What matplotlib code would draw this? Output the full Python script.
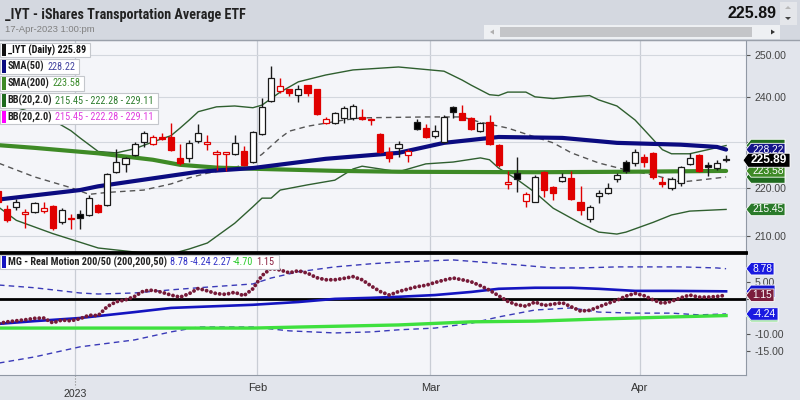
import numpy as np
import matplotlib
matplotlib.use("Agg")
import matplotlib.pyplot as plt
from matplotlib.patches import Polygon, Rectangle
from matplotlib.lines import Line2D
from matplotlib.transforms import blended_transform_factory
from matplotlib import font_manager

avail = {f.name for f in font_manager.fontManager.ttflist}
def pick(*names):
    for n in names:
        if n in avail:
            return n
    return "DejaVu Sans"
NARROW = pick("Roboto Condensed", "Liberation Sans Narrow", "Arial Narrow", "Liberation Sans")
SANS = pick("Liberation Sans", "Roboto", "DejaVu Sans")

# ---------------- data (trading-day index, 0 = 3-Jan-2023) ----------------
days = np.arange(-9, 72)
opens = [219.2, 215.5, 216.0, 214.6, 215.0, 215.1, 216.1, 212.8, 213.4,
         214.5, 214.3, 216.3, 216.3, 223.4, 225.1, 227.1, 229.9, 229.5, 230.9, 231.0, 226.3,
         226.4, 230.1, 229.5, 227.3, 227.2, 227.3, 227.9, 225.5,
         231.7, 239.1, 241.5, 241.9, 240.6, 242.8, 241.9, 234.1, 234.1, 235.3, 235.3, 235.4,
         235.0, 231.7, 227.7, 228.6, 227.0, 234.3, 233.0,
         231.2, 229.9, 237.7, 236.4, 235.3, 232.3, 234.3, 229.3, 220.8, 223.1, 217.2, 217.0,
         223.4, 220.1, 221.4, 222.1, 217.0, 213.4, 218.2, 218.8, 221.9, 225.5, 225.3,
         226.6, 227.5, 221.2, 219.9, 221.0, 225.1, 227.0, 224.8, 224.2, 226.0]
highs = [219.6, 216.3, 217.6, 215.5, 216.9, 216.9, 216.4, 215.7, 214.5,
         215.3, 218.5, 216.5, 223.2, 228.4, 226.6, 229.9, 232.3, 231.4, 231.9, 234.2, 229.5,
         230.4, 234.0, 231.4, 228.1, 227.7, 231.4, 229.1, 232.3,
         239.8, 247.4, 244.4, 242.0, 242.8, 242.9, 242.0, 235.4, 236.7, 237.9, 238.4, 237.2,
         235.3, 231.8, 228.8, 230.1, 228.3, 235.1, 233.8,
         233.6, 235.9, 237.9, 238.3, 235.4, 234.3, 236.0, 229.5, 223.6, 226.6, 219.0, 222.6,
         223.6, 220.3, 223.1, 223.6, 220.3, 216.3, 219.5, 221.0, 223.1, 225.9, 228.4,
         227.3, 227.7, 222.3, 222.3, 224.7, 227.5, 227.3, 225.5, 225.9, 227.0]
lows = [216.5, 212.8, 215.3, 211.6, 214.8, 214.8, 211.2, 212.4, 211.4,
        211.4, 214.1, 214.8, 216.2, 223.1, 223.4, 226.8, 228.8, 229.3, 230.3, 228.0, 224.8,
        225.5, 229.7, 228.1, 223.8, 223.5, 227.1, 224.7, 225.3,
        231.4, 238.9, 240.9, 240.4, 238.9, 240.4, 236.0, 233.8, 233.8, 234.1, 234.9, 234.7,
        233.6, 227.5, 225.5, 226.6, 225.5, 232.6, 230.8,
        230.8, 229.7, 235.3, 234.7, 232.6, 232.1, 229.3, 224.5, 219.7, 219.1, 215.9, 216.9,
        218.0, 217.4, 221.2, 217.4, 214.3, 212.8, 216.7, 218.6, 221.2, 223.2, 224.7,
        224.5, 221.9, 220.1, 219.5, 220.3, 224.9, 223.4, 222.5, 223.8, 225.5]
closes = [217.0, 213.2, 217.0, 215.0, 216.7, 215.7, 211.6, 215.3, 213.6,
          213.7, 217.8, 215.0, 222.9, 225.5, 226.4, 229.5, 231.9, 231.0, 230.6, 228.1, 225.4,
          229.7, 231.9, 229.9, 227.7, 227.6, 229.7, 224.9, 232.1,
          237.7, 244.4, 242.6, 240.9, 241.9, 240.9, 236.2, 235.1, 236.4, 237.5, 238.1, 235.1,
          234.8, 227.7, 226.4, 229.5, 227.9, 232.8, 231.0,
          232.3, 235.5, 236.6, 234.9, 232.8, 234.1, 229.5, 224.9, 221.2, 221.9, 218.6, 222.3,
          219.5, 218.8, 222.3, 217.6, 215.3, 215.9, 218.8, 219.9, 222.7, 223.6, 227.7,
          225.5, 222.3, 220.8, 221.9, 224.4, 226.4, 223.6, 224.5, 225.3, 225.89]
close_before_first = 219.5

sma50_d = [-9, 0, 2, 13, 19, 27, 35, 40, 46, 53, 59, 66, 70, 71]
sma50_v = [217.5, 219.5, 220.3, 223.4, 224.2, 226.2, 227.5, 229.7, 231.0, 230.8, 229.7, 229.3, 228.8, 228.22]

sma200_d = [-9, -5, 2, 8, 11, 15, 20, 28, 35, 50, 60, 71]
sma200_v = [229.2, 228.6, 227.4, 226.0, 224.9, 224.3, 224.0, 223.6, 223.4, 223.3, 223.4, 223.58]

bbu_d = [-9, -6, -3, -1, 0, 2, 4, 6, 8, 10, 11, 12, 13, 15, 17, 19, 20, 22, 24, 27, 30, 35,
         40, 42, 43, 45, 46, 47, 49, 50, 52, 54, 56, 57, 59, 61, 62, 63, 64, 65, 67, 69, 71]
bbu_v = [239.0, 237.0, 234.8, 232.4, 230.8, 227.8, 227.5, 228.4, 229.9, 231.3, 233.0, 234.8,
         236.7, 237.8, 238.0, 237.6, 238.2, 241.2, 243.6, 245.2, 246.4, 247.1,
         246.1, 244.0, 242.8, 240.6, 240.4, 241.2, 241.2, 240.1, 239.7, 240.1, 240.4, 239.4,
         238.0, 234.8, 232.6, 230.4, 228.2, 227.3, 227.3, 228.2, 229.11]

bbm_d = [-9, -5, -1, 1, 3, 7, 10, 12, 14, 16, 18, 19, 20, 21, 22, 23, 25, 27, 29, 31, 38, 42,
         44, 47, 50, 52, 54, 57, 60, 63, 66, 68, 71]
bbm_v = [225.3, 222.3, 220.0, 218.6, 219.0, 219.5, 220.8, 222.1, 223.1, 223.8, 224.9, 225.8,
         227.2, 229.0, 230.8, 232.3, 233.4, 234.1, 234.8, 235.3, 235.5, 235.5,
         234.3, 233.0, 231.0, 229.7, 227.5, 225.3, 223.8, 222.7, 221.2, 221.6, 222.28]

bbl_d = [-9, -7, -3, 2, 7, 10, 12, 14, 17, 19, 20, 21, 22, 25, 28, 30, 31, 33, 35, 38, 41,
         44, 45, 46, 48, 50, 52, 55, 57, 59, 60, 63, 65, 67, 71]
bbl_v = [216.0, 213.2, 210.5, 207.6, 206.6, 206.4, 207.4, 208.6, 212.6, 216.0, 217.8, 217.8,
         219.5, 220.6, 221.6, 224.0, 224.6, 224.0, 223.4, 225.1, 225.5,
         226.4, 226.0, 224.2, 221.8, 219.0, 215.7, 212.6, 210.8, 210.4, 210.8, 212.8, 214.3,
         215.1, 215.45]

# Real Motion panel
rm_dots = [-7.0, -6.5, -6.2, -5.9, -5.5, -5.4, -6.8, -6.0, -6.2,
           -5.6, -4.6, -4.7, -2.1, -0.7, -0.2, 0.8, 2.4, 2.6, 2.0, 1.2, 0.6, 1.6, 3.1, 2.4,
           1.6, 1.4, 2.0, 1.0, 3.0, 6.8, 8.9, 8.4, 7.6, 8.2, 7.5, 6.2, 5.6, 5.6, 6.0, 6.5,
           5.6, 3.8, 2.2, 1.2, 2.2, 2.9, 3.6, 4.0, 4.8, 5.5, 6.1, 5.6, 5.0, 3.9, 2.6, 1.0,
           -0.6, -1.6, -2.0, -0.8, -1.8, -1.4, -1.0, -2.2, -3.4, -3.2, -2.2, -1.2, -0.3,
           0.9, 1.7, 1.0, -0.2, -1.2, -0.6, 0.4, 1.2, 0.6, 0.6, 0.8, 1.15]
rm_up_d = [-9, -5, 0, 2, 6, 10, 13, 19, 21, 24, 28, 32, 35, 41, 44, 48, 52, 55, 59, 66, 70, 71]
rm_up_v = [4.1, 3.3, 1.8, 1.5, 1.8, 2.7, 3.3, 4.4, 6.1, 7.9, 9.3, 10.2, 10.7, 11.3, 10.7,
           9.9, 9.0, 9.0, 9.3, 9.3, 9.0, 8.78]
rm_lo_d = [-9, -5, 0, 6, 10, 13, 19, 23, 28, 32, 35, 39, 43, 46, 50, 54, 57, 61, 65, 68, 71]
rm_lo_v = [-18.4, -16.6, -13.7, -11.7, -9.4, -8.0, -8.0, -9.1, -9.7, -9.4, -8.8, -8.3,
           -6.9, -5.1, -3.1, -2.5, -3.7, -4.0, -4.0, -4.5, -4.24]
rm_blue_d = [-9, -5, 0, 6, 10, 13, 19, 24, 28, 32, 35, 39, 43, 46, 50, 54, 57, 61, 65, 71]
rm_blue_v = [-7.1, -6.3, -5.4, -3.7, -2.5, -2.2, -1.6, -0.8, 0.1, 0.4, 0.7, 1.2, 2.1, 3.0,
             3.3, 3.3, 3.0, 2.4, 2.4, 2.27]
rm_green_d = [-9, 10, 19, 24, 35, 43, 50, 57, 65, 71]
rm_green_v = [-8.3, -8.3, -8.3, -8.0, -7.4, -6.5, -6.3, -5.7, -5.1, -4.70]

price_ticks = [210, 220, 230, 240, 250]
price_ticklabels = ["210.00", "220.00", "", "240.00", "250.00"]   # 230.00 sits under the value tags
rm_ticks = [5, 0, -5, -10, -15]
rm_ticklabels = ["5.00", "", "", "-10.00", "-15.00"]             # 0.00 / -5.00 sit under the tags
month_pos = [-0.5, 19.5, 38.5, 61.5]
month_labels = ["2023", "Feb", "Mar", "Apr"]

title = "_IYT - iShares Transportation Average ETF"
stamp = "17-Apr-2023 1:00:pm"

# ---------------- figure ----------------
W, H = 800, 400
fig = plt.figure(figsize=(8, 4), dpi=100, facecolor="#e2e5ec")
def fx(x): return x / W
def fy(y): return 1 - y / H

CHART_R = 746
ax1 = fig.add_axes([0, fy(252), fx(CHART_R), (252 - 40) / H])
ax2 = fig.add_axes([0, fy(375), fx(CHART_R), (375 - 253) / H])
XMIN, XMAX = -80 / 9.1, (CHART_R - 80) / 9.1
BG = "#f4f5f9"

for ax in (ax1, ax2):
    ax.set_facecolor(BG)
    ax.set_xlim(XMIN, XMAX)
    ax.set_xticks([])
    ax.spines["left"].set_visible(False)
    ax.spines["right"].set_color("#9098a4")
    ax.spines["top"].set_color("#9098a4")
    ax.spines["bottom"].set_color("#9098a4")
    ax.yaxis.tick_right()
    ax.tick_params(axis="y", length=3, width=0.8, color="#555555", pad=3,
                   labelsize=7.6, labelcolor="#444444")
    for p in month_pos:
        ax.axvline(p, color="#c9cdd5", lw=0.9, zorder=0.5)

# upper panel
ax1.set_yscale("log")
ax1.set_ylim(206.8, 253.6)
ax1.yaxis.set_major_locator(matplotlib.ticker.FixedLocator(price_ticks))
ax1.yaxis.set_minor_locator(matplotlib.ticker.NullLocator())
ax1.yaxis.set_major_formatter(matplotlib.ticker.FixedFormatter(price_ticklabels))
for lab in ax1.get_yticklabels():
    lab.set_family(SANS)
for t in price_ticks:
    ax1.axhline(t, color="#d3d7de", lw=0.8, zorder=0.5)
ax1.spines["bottom"].set_color("black")
ax1.spines["bottom"].set_linewidth(2)

ax1.plot(bbu_d, bbu_v, color="#2f5f2f", lw=1.0, zorder=2)
ax1.plot(bbl_d, bbl_v, color="#2f5f2f", lw=1.0, zorder=2)
ax1.plot(bbm_d, bbm_v, color="#555555", lw=1.0, dashes=(4, 3), zorder=2)
ax1.plot(sma200_d, sma200_v, color="#3e8a26", lw=3.0, zorder=2.2, solid_capstyle="round")
ax1.plot(sma50_d, sma50_v, color="#0b0b80", lw=3.0, zorder=2.3, solid_capstyle="round")

RED = "#e00000"
prev = [close_before_first] + closes[:-1]
for d, o, hi, lo, c, pc in zip(days, opens, highs, lows, closes, prev):
    up = c >= o
    if c < pc:
        edge = RED
        face = "white" if up else RED
    else:
        edge = "#1a1a1a"
        face = "white" if up else "black"
    ax1.vlines(d, lo, hi, color=edge, lw=1.0, zorder=3)
    body = max(abs(c - o), 0.3)
    ax1.bar(d, body, bottom=min(o, c), width=0.68, facecolor=face, edgecolor=edge,
            lw=0.9, zorder=4)

# lower panel
ax2.set_ylim(-21.8, 13.3)
ax2.set_yticks(rm_ticks)
ax2.set_yticklabels(rm_ticklabels)
for lab in ax2.get_yticklabels():
    lab.set_family(SANS)
ax2.spines["top"].set_color("black")
ax2.spines["top"].set_linewidth(2)
ax2.axhline(0, color="black", lw=2, zorder=1)
ax2.plot(rm_up_d, rm_up_v, color="#3a3ab8", lw=1.0, dashes=(4, 3), zorder=2)
ax2.plot(rm_lo_d, rm_lo_v, color="#3a3ab8", lw=1.0, dashes=(4, 3), zorder=2)
ax2.plot(rm_green_d, rm_green_v, color="#3ee03e", lw=2.4, zorder=2)
ax2.plot(rm_blue_d, rm_blue_v, color="#1414c0", lw=1.9, zorder=2.1)
ax2.plot(days, rm_dots, color="#761a38", lw=2.8, dashes=(0.01, 1.15),
         dash_capstyle="round", zorder=3)

trans = blended_transform_factory(ax2.transData, ax2.transAxes)
for p, lab in zip(month_pos, month_labels):
    if lab == "2023":
        ax2.text(p, (375 - 389) / 122, lab, transform=trans, ha="center", va="top",
                 fontsize=7.6, color="#333333", family=SANS, clip_on=False)
        ax2.plot([p, p], [0, (375 - 387) / 122], transform=trans, color="#888888",
                 lw=0.8, ls=":", clip_on=False)
    else:
        ax2.text(p, (375 - 388) / 122, lab, transform=trans, ha="center", va="center",
                 fontsize=8, color="#333333", family=SANS, clip_on=False)

# ---------------- header ----------------
fig.add_artist(Rectangle((0, fy(40)), 1, 40 / H, transform=fig.transFigure,
                         facecolor="#d4d8e0", edgecolor="none", zorder=1))
fig.add_artist(Line2D([0, 1], [fy(40), fy(40)], transform=fig.transFigure,
                      color="#9aa0aa", lw=1, zorder=2))
fig.text(fx(5), fy(15), title, fontsize=10.2, weight="bold", family=NARROW,
         color="#222222", va="center", ha="left", zorder=3)
fig.text(fx(5), fy(30), stamp, fontsize=6.8, family=SANS, color="#808080",
         va="center", ha="left", zorder=3)
fig.text(fx(777), fy(13), f"{closes[-1]:.2f}", fontsize=11.5, weight="bold", family=SANS,
         color="#111111", va="center", ha="right", zorder=3)
# scrollbar + spinner
fig.add_artist(Rectangle((fx(484), fy(39)), fx(296), 14 / H, transform=fig.transFigure,
                         facecolor="#eef0f3", edgecolor="none", zorder=2))
fig.add_artist(Rectangle((fx(500), fy(37)), fx(252), 10 / H, transform=fig.transFigure,
                         facecolor="#c4c5c8", edgecolor="none", zorder=3))
fig.add_artist(Polygon([(fx(490), fy(32)), (fx(494), fy(29.5)), (fx(494), fy(34.5))],
                       transform=fig.transFigure, facecolor="#b0b0b0", edgecolor="none", zorder=3))
fig.add_artist(Polygon([(fx(775), fy(32)), (fx(771), fy(29.5)), (fx(771), fy(34.5))],
                       transform=fig.transFigure, facecolor="#333333", edgecolor="none", zorder=3))
fig.add_artist(Rectangle((fx(780), fy(25)), fx(17), 23 / H, transform=fig.transFigure,
                         facecolor="#e4e6ea", edgecolor="none", zorder=2))
fig.add_artist(Polygon([(fx(785), fy(9)), (fx(791), fy(9)), (fx(788), fy(6))],
                       transform=fig.transFigure, facecolor="#b8b8b8", edgecolor="none", zorder=3))
fig.add_artist(Polygon([(fx(785), fy(17)), (fx(791), fy(17)), (fx(788), fy(20))],
                       transform=fig.transFigure, facecolor="#444444", edgecolor="none", zorder=3))

# ---------------- legends ----------------
renderer = fig.canvas.get_renderer()
def legend_box(ycen, bar_color, parts, x0=0, h=14, fs=7.4):
    x = x0 + 7.5
    for s, color, bold in parts:
        t = fig.text(fx(x), fy(ycen), s, color=color, fontsize=fs,
                     weight="bold" if bold else "normal", family=NARROW,
                     va="center", ha="left", zorder=12)
        bb = t.get_window_extent(renderer)
        x += bb.width + 3
    right = x - 3 + 4
    fig.add_artist(Rectangle((fx(x0), fy(ycen + h / 2)), fx(right - x0), h / H,
                             transform=fig.transFigure, facecolor="white",
                             edgecolor="#c4c7cc", lw=0.8, zorder=10))
    fig.add_artist(Rectangle((fx(x0 + 1.5), fy(ycen + h / 2 - 1)), fx(4), (h - 2) / H,
                             transform=fig.transFigure, facecolor=bar_color,
                             edgecolor="none", zorder=11))

bb_txt = f"{bbl_v[-1]:.2f} - {bbm_v[-1]:.2f} - {bbu_v[-1]:.2f}"
legend_box(50, "#111111", [(f"_IYT (Daily) {closes[-1]:.2f}", "#111111", True)])
legend_box(66.5, "#0b0b80", [("SMA(50)", "#222222", True), (f"{sma50_v[-1]:.2f}", "#4444a0", False)])
legend_box(83.5, "#3e8a26", [("SMA(200)", "#222222", True), (f"{sma200_v[-1]:.2f}", "#3c8c2c", False)])
legend_box(100.5, "#1f6b1f", [("BB(20,2.0)", "#222222", True), (bb_txt, "#2e7d2e", False)])
legend_box(117, "#ff00ff", [("BB(20,2.0)", "#222222", True), (bb_txt, "#e03ce0", False)])
legend_box(262, "#1414c0", [("MG - Real Motion 200/50 (200,200,50)", "#222222", True),
                            (f"{rm_up_v[-1]:.2f} {rm_lo_v[-1]:.2f} {rm_blue_v[-1]:.2f}", "#3535c8", False),
                            (f"{rm_green_v[-1]:.2f}", "#2ecc2e", False),
                            (f"{rm_dots[-1]:.2f}", "#8b2040", False)])

# ---------------- value tags ----------------
def tag(ax, val, color, label, left=746, body=751, right=785, h=12.5, fs=7.4,
        weight="normal", z=20):
    yd = ax.transData.transform((0, val))[1]
    pts = [(left, yd), (body, yd + h / 2), (right, yd + h / 2), (right, yd - h / 2), (body, yd - h / 2)]
    pts = [(px / W, py / H) for px, py in pts]
    fig.add_artist(Polygon(pts, closed=True, transform=fig.transFigure, facecolor=color,
                           edgecolor="white", lw=0.6, zorder=z))
    if label:
        fig.text((body + right) / 2 / W, yd / H, label, color="white", fontsize=fs,
                 weight=weight, family=SANS, ha="center", va="center", zorder=z + 0.5)

# tags mostly hidden behind others are drawn without their (invisible) label
tag(ax1, bbu_v[-1], "#1f6b1f", None, z=20)
tag(ax1, bbm_v[-1], "#1f6b1f", None, z=20)
tag(ax1, bbl_v[-1], "#2a7a2a", f"{bbl_v[-1]:.2f}", z=21)
tag(ax1, sma50_v[-1], "#16168a", f"{sma50_v[-1]:.2f}", z=22)
tag(ax1, sma200_v[-1], "#3e8a26", f"{sma200_v[-1]:.2f}", z=22)
tag(ax1, closes[-1], "#000000", f"{closes[-1]:.2f}", left=743, body=748, right=790,
    h=14, fs=8.6, weight="bold", z=24)

tag(ax2, rm_blue_v[-1], "#1414d0", None, right=775, z=20)
tag(ax2, rm_green_v[-1], "#2ecc2e", None, right=778, z=20)
tag(ax2, rm_up_v[-1], "#1a1ae0", f"{rm_up_v[-1]:.2f}", right=774, z=22)
tag(ax2, rm_dots[-1], "#7b1d3c", f"{rm_dots[-1]:.2f}", right=774, z=22)
tag(ax2, rm_lo_v[-1], "#1a1ae0", f"{rm_lo_v[-1]:.2f}", right=778, z=22)

fig.savefig("out.png", dpi=100, facecolor=fig.get_facecolor())
